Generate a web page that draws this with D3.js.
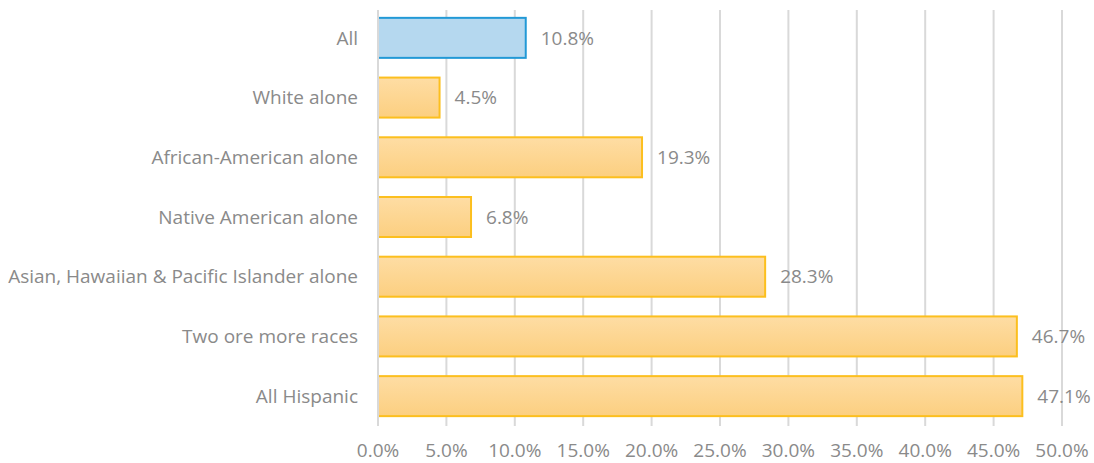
<!DOCTYPE html>
<html>
<head>
<meta charset="utf-8">
<script src="https://cdn.jsdelivr.net/npm/d3@7/dist/d3.min.js"></script>
<style>
  html, body { margin: 0; padding: 0; background: #fff; }
  svg { display: block; }
  text { font-family: "Open Sans", Lato, sans-serif; fill: #8a8a8a; }
</style>
</head>
<body>
<svg id="chart" width="1094" height="463"></svg>
<script>
const categories = [
  "All",
  "White alone",
  "African-American alone",
  "Native American alone",
  "Asian, Hawaiian & Pacific Islander alone",
  "Two ore more races",
  "All Hispanic"
];
const values = [10.8, 4.5, 19.3, 6.8, 28.3, 46.7, 47.1];
const tickValues = [0, 5, 10, 15, 20, 25, 30, 35, 40, 45, 50];

const W = 1094, H = 463;
const margin = { top: 8, right: 32, bottom: 37, left: 378 };
const fontSize = 19;

const svg = d3.select("#chart");

const defs = svg.append("defs");
const gOr = defs.append("linearGradient").attr("id", "gradOrange")
  .attr("x1", 0).attr("y1", 0).attr("x2", 0).attr("y2", 1);
gOr.append("stop").attr("offset", "0%").attr("stop-color", "#fedda4");
gOr.append("stop").attr("offset", "100%").attr("stop-color", "#fccf80");

const x = d3.scaleLinear().domain([0, 50]).range([margin.left, W - margin.right]);
const y = d3.scaleBand().domain(categories)
  .range([margin.top, H - margin.bottom]).paddingInner(0.33).paddingOuter(0.165);

// vertical gridlines
svg.append("g").selectAll("line").data(tickValues.slice(1)).join("line")
  .attr("x1", d => x(d)).attr("x2", d => x(d))
  .attr("y1", margin.top + 2).attr("y2", H - margin.bottom)
  .attr("stroke", "#d9d9d9").attr("stroke-width", 2);

// bars
svg.append("g").selectAll("rect").data(values).join("rect")
  .attr("x", x(0))
  .attr("y", (d, i) => y(categories[i]))
  .attr("width", d => x(d) - x(0))
  .attr("height", y.bandwidth())
  .attr("fill", (d, i) => i === 0 ? "#b5d8ef" : "url(#gradOrange)")
  .attr("stroke", (d, i) => i === 0 ? "#2299d6" : "#fcbf1e")
  .attr("stroke-width", 2);

// category axis line
svg.append("line")
  .attr("x1", x(0)).attr("x2", x(0))
  .attr("y1", margin.top + 2).attr("y2", H - margin.bottom)
  .attr("stroke", "#d9d9d9").attr("stroke-width", 2);

// value labels
svg.append("g").selectAll("text").data(values).join("text")
  .attr("x", d => x(d) + 15)
  .attr("y", (d, i) => y(categories[i]) + y.bandwidth() / 2)
  .attr("dy", "0.35em")
  .attr("font-size", fontSize)
  .text(d => d.toFixed(1) + "%");

// category labels
svg.append("g").selectAll("text").data(categories).join("text")
  .attr("x", margin.left - 20)
  .attr("y", d => y(d) + y.bandwidth() / 2)
  .attr("dy", "0.35em")
  .attr("text-anchor", "end")
  .attr("font-size", fontSize)
  .text(d => d);

// x tick labels
svg.append("g").selectAll("text").data(tickValues).join("text")
  .attr("x", d => x(d))
  .attr("y", 457)
  .attr("text-anchor", "middle")
  .attr("font-size", fontSize)
  .text(d => d.toFixed(1) + "%");
</script>
</body>
</html>
